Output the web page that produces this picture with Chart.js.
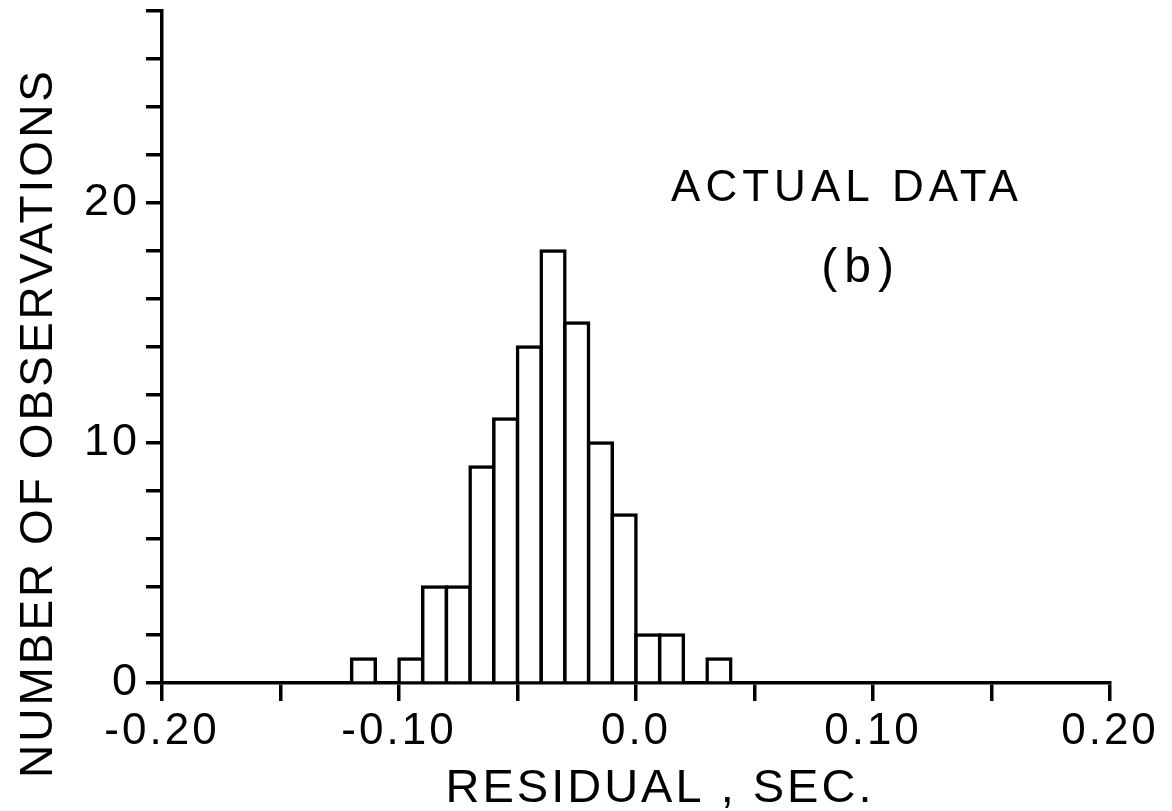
<!DOCTYPE html>
<html>
<head>
<meta charset="utf-8">
<script src="https://cdn.jsdelivr.net/npm/chart.js@4"></script>
<style>
    body { margin: 0; background: #fff; }
    #box { width: 1172px; height: 811px; }
</style>
</head>
<body>
<div id="box"><canvas id="myChart"></canvas></div>
<script>
// histogram bins (centre of each 0.01 s bin) and counts
var binCenters = [-0.115, -0.105, -0.095, -0.085, -0.075, -0.065, -0.055, -0.045,
                  -0.035, -0.025, -0.015, -0.005, 0.005, 0.015, 0.025, 0.035]
var counts = [1, 0, 1, 4, 4, 9, 11, 14, 18, 15, 10, 7, 2, 2, 0, 1]

var xLabels = [-0.20, -0.10, 0.0, 0.10, 0.20]
var yLabels = [0, 10, 20]

var xTitle = 'RESIDUAL , SEC.'
var yTitle = 'NUMBER OF OBSERVATIONS'
var notes = [
    { text: 'ACTUAL DATA', x: 0.089, y: 20.1, size: 44, spacing: 5 },
    { text: '(b)', x: 0.095, y: 16.7, size: 48, spacing: 7 }
]

var fontFamily = '"Liberation Sans", Arial, sans-serif'

var points = binCenters.map((c, i) => ({ x: c, y: counts[i] }))

var textPlugin = {
    id: 'plotterText',
    beforeDraw: chart => {
        chart.ctx.letterSpacing = '3px'
    },
    afterDraw: chart => {
        var ctx = chart.ctx
        var area = chart.chartArea
        var xs = chart.scales.x
        var ys = chart.scales.y
        ctx.save()
        ctx.letterSpacing = '3px'
        ctx.fillStyle = '#000'
        ctx.textBaseline = 'alphabetic'
        ctx.textAlign = 'center'

        // axis titles
        ctx.font = '47px ' + fontFamily
        ctx.fillText(xTitle, (area.left + area.right) / 2 + 24, area.bottom + 119)
        ctx.font = '46px ' + fontFamily
        ctx.save()
        ctx.translate(52, 423)
        ctx.rotate(-Math.PI / 2)
        ctx.fillText(yTitle, 0, 0)
        ctx.restore()

        // notes inside the plot
        notes.forEach(n => {
            ctx.font = n.size + 'px ' + fontFamily
            ctx.letterSpacing = n.spacing + 'px'
            ctx.fillText(n.text, xs.getPixelForValue(n.x), ys.getPixelForValue(n.y))
        })
        ctx.restore()
    }
}

var ctx = document.getElementById('myChart').getContext('2d')

var myChart = new Chart(ctx, {
    type: 'bar',
    data: {
        datasets: [{
            data: points,
            backgroundColor: '#fff',
            borderColor: '#000',
            borderWidth: 3.5,
            inflateAmount: 1.75,
            barPercentage: 1,
            categoryPercentage: 1
        }]
    },
    options: {
        responsive: true,
        maintainAspectRatio: false,
        animation: false,
        layout: { padding: { top: 11, right: 62, left: 0, bottom: 0 } },
        plugins: {
            legend: { display: false },
            tooltip: { enabled: false }
        },
        scales: {
            x: {
                type: 'linear',
                min: -0.2,
                max: 0.2,
                offset: false,
                z: 1,
                afterFit: s => { s.height = 128 },
                border: { display: true, color: '#000', width: 3.5 },
                grid: {
                    offset: false,
                    drawOnChartArea: false,
                    color: '#000',
                    lineWidth: 3.5,
                    tickLength: 18
                },
                ticks: {
                    stepSize: 0.05,
                    color: '#000',
                    padding: 4,
                    maxRotation: 0,
                    autoSkip: false,
                    font: { family: fontFamily, size: 44 },
                    callback: v => {
                        var k = Math.round(v * 100)
                        var hit = xLabels.find(l => Math.round(l * 100) === k)
                        if (hit === undefined) return ''
                        return k === 0 ? '0.0' : (k / 100).toFixed(2)
                    }
                }
            },
            y: {
                min: 0,
                max: 28,
                z: 1,
                afterFit: s => {
                    s.width = 162
                    s.paddingTop = 0
                    s.paddingBottom = 0
                },
                border: { display: true, color: '#000', width: 3.5 },
                grid: {
                    drawOnChartArea: false,
                    color: '#000',
                    lineWidth: 3.5,
                    tickLength: 16
                },
                ticks: {
                    stepSize: 2,
                    color: '#000',
                    padding: 6,
                    autoSkip: false,
                    font: { family: fontFamily, size: 45 },
                    callback: v => yLabels.indexOf(v) >= 0 ? String(v) : ''
                }
            }
        }
    },
    plugins: [textPlugin]
})
</script>
</body>
</html>
